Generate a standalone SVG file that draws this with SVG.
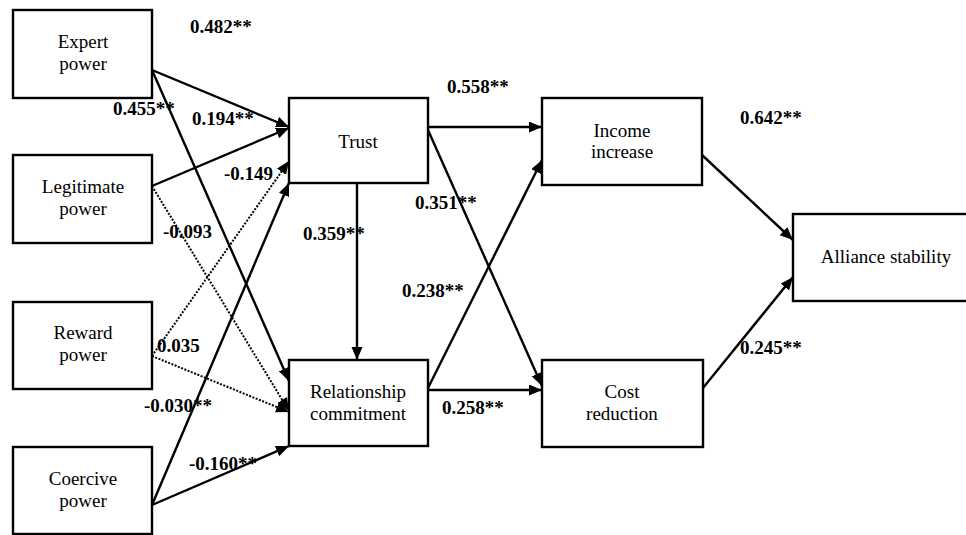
<svg xmlns="http://www.w3.org/2000/svg" width="966" height="535" viewBox="0 0 966 535">
<defs>
<marker id="ah" markerUnits="userSpaceOnUse" markerWidth="14" markerHeight="12" refX="13" refY="5.5" orient="auto">
<path d="M0,0 L13,5.5 L0,11 z" fill="#000"/>
</marker>
<style>
.box{fill:#fff;stroke:#000;stroke-width:2.4}
.nt{font-family:"Liberation Serif","Times New Roman",serif;font-size:19px;fill:#000;text-anchor:middle}
.lb{font-family:"Liberation Serif","Times New Roman",serif;font-size:19px;fill:#000;font-weight:bold}
.ln{fill:none;stroke:#000;stroke-width:2.4;marker-end:url(#ah)}
.dt{fill:none;stroke:#000;stroke-width:2;stroke-dasharray:2 1.5;marker-end:url(#ah)}
</style>
</defs>
<rect width="966" height="535" fill="#fff"/>
<g id="connectors">
<path class="ln" d="M152,70 L289,127"/>
<path class="ln" d="M152,70 L289,381"/>
<path class="ln" d="M152,186 L289,128"/>
<path class="dt" d="M152,186 L289,411"/>
<path class="dt" d="M152,356 L289,161"/>
<path class="dt" d="M152,356 L289,412"/>
<path class="ln" d="M152,505 L289,183"/>
<path class="ln" d="M152,505 L289,446"/>
<path class="ln" d="M357,183 L357,360"/>
<path class="ln" d="M428,127 L542,127"/>
<path class="ln" d="M428,130 L542,386"/>
<path class="ln" d="M428,388 L542,160"/>
<path class="ln" d="M428,390 L542,390"/>
<path class="ln" d="M702,155 L793,240"/>
<path class="ln" d="M703,388 L793,277"/>
</g>
<g id="expert"><rect class="box" x="13" y="10" width="139" height="88"/><text class="nt" x="83" y="48">Expert</text><text class="nt" x="83" y="70">power</text></g>
<g id="legitimate"><rect class="box" x="13" y="155" width="139" height="88"/><text class="nt" x="83" y="193">Legitimate</text><text class="nt" x="83" y="215">power</text></g>
<g id="reward"><rect class="box" x="13" y="302" width="139" height="87"/><text class="nt" x="83" y="339">Reward</text><text class="nt" x="83" y="361">power</text></g>
<g id="coercive"><rect class="box" x="13" y="447" width="139" height="87"/><text class="nt" x="83" y="485">Coercive</text><text class="nt" x="83" y="507">power</text></g>
<g id="trust"><rect class="box" x="289" y="98" width="139" height="85"/><text class="nt" x="358" y="148">Trust</text></g>
<g id="commitment"><rect class="box" x="289" y="360" width="139" height="86"/><text class="nt" x="358" y="398">Relationship</text><text class="nt" x="358" y="420">commitment</text></g>
<g id="income"><rect class="box" x="542" y="98" width="160" height="87"/><text class="nt" x="622" y="137">Income</text><text class="nt" x="622" y="158">increase</text></g>
<g id="cost"><rect class="box" x="542" y="360" width="161" height="87"/><text class="nt" x="622" y="398">Cost</text><text class="nt" x="622" y="420">reduction</text></g>
<g id="alliance"><rect class="box" x="793" y="214" width="180" height="87"/><text class="nt" x="886" y="263">Alliance stability</text></g>
<g id="labels">
<text class="lb" x="190" y="33">0.482**</text>
<text class="lb" x="113" y="115">0.455**</text>
<text class="lb" x="192" y="125">0.194**</text>
<text class="lb" x="224" y="180">-0.149</text>
<text class="lb" x="163" y="238">-0.093</text>
<text class="lb" x="303" y="240">0.359**</text>
<text class="lb" x="415" y="209">0.351**</text>
<text class="lb" x="447" y="93">0.558**</text>
<text class="lb" x="402" y="297">0.238**</text>
<text class="lb" x="442" y="414">0.258**</text>
<text class="lb" x="157" y="352">0.035</text>
<text class="lb" x="144" y="412">-0.030**</text>
<text class="lb" x="189" y="470">-0.160**</text>
<text class="lb" x="740" y="124">0.642**</text>
<text class="lb" x="740" y="354">0.245**</text>
</g>
</svg>
